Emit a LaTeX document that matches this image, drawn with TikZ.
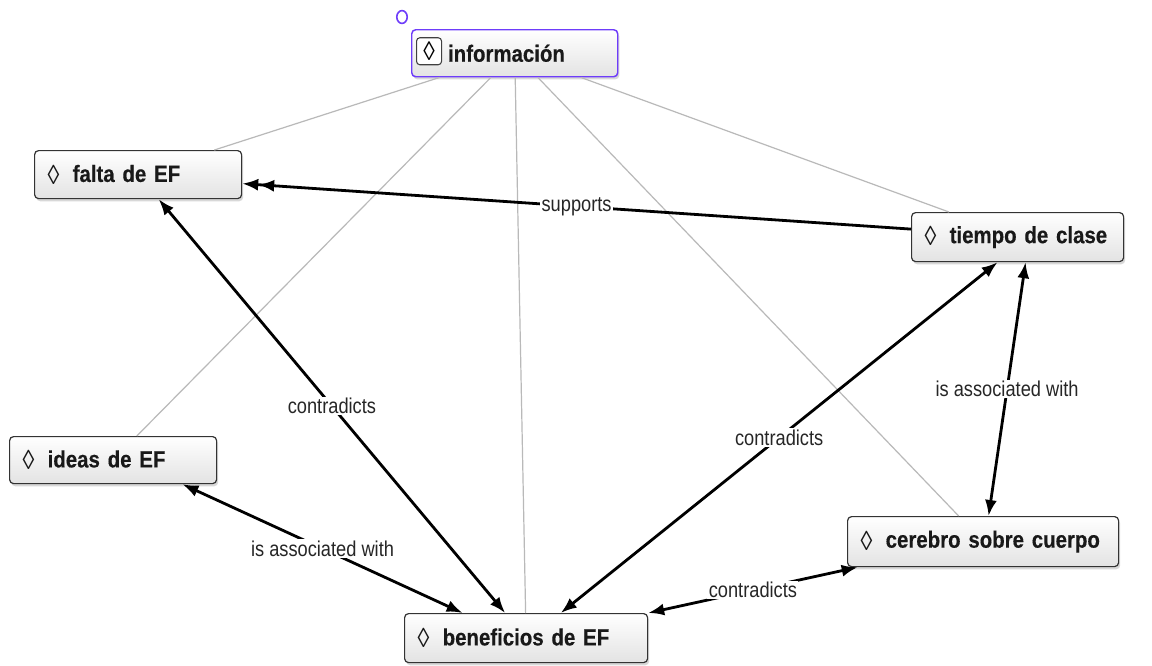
\documentclass[tikz,border=0pt]{standalone}
\usepackage{fontspec}
\setmainfont{Liberation Sans}
\newfontfamily\nodefont[FakeStretch=0.87, BoldFeatures={FakeBold=0.35}]{Liberation Sans}
\newfontfamily\lblfont[FakeStretch=0.85]{Liberation Sans}
\usetikzlibrary{arrows.meta,shadows}
\definecolor{selpurple}{RGB}{110,60,250}
\definecolor{linkgray}{RGB}{185,185,185}
\newcommand{\dmd}{\raisebox{-1.8pt}{\mdseries\fontsize{20.5}{20}\selectfont ◊}\hspace{10pt}}
\begin{document}
\begin{tikzpicture}[x=0.75pt,y=-0.75pt,
  box/.style={draw=black!80, line width=0.9pt, rounded corners=3pt,
    top color=white, bottom color=black!11,
    drop shadow={opacity=0.3,shadow xshift=1.2pt,shadow yshift=-2pt},
    anchor=north west, inner xsep=9.75pt, inner ysep=0pt, align=left,
    text=black!90, font={\nodefont\bfseries\fontsize{17.6}{20}\selectfont}},
  lbl/.style={fill=white, inner sep=1pt, text=black!85,
    font={\lblfont\fontsize{16.1}{18}\selectfont}},
  gl/.style={draw=linkgray, line width=0.9pt},
  arr/.style={draw=black, line width=2.1pt,
    {Latex[length=12pt,width=9pt]}-{Latex[length=12pt,width=9pt]}},
  sup/.style={draw=black, line width=2.1pt,
    -{Latex[length=12pt,width=9pt] Latex[length=12pt,width=9pt]}}]
\fill[white] (0,0) rectangle (1152,665);
\useasboundingbox (0,0) rectangle (1152,665);

% nodes
\node[box, draw=selpurple, line width=1.1pt, text width=135pt, minimum height=35.25pt] (info) at (411,29) {\mbox{\hspace*{17.5pt}información}};
\node[draw=black!75, line width=0.8pt, rounded corners=2.5pt, fill=white, minimum width=18.75pt, minimum height=20.25pt, inner sep=0pt, anchor=west, font={\nodefont\fontsize{20}{20}\selectfont}] (infoicon) at ([xshift=3.75pt,yshift=1.5pt]info.west) {◊};
\node[box, text width=135.75pt, minimum height=36pt] (falta) at (34,150) {\mbox{\dmd falta de EF}};
\node[box, text width=139.5pt, minimum height=36.75pt] (tiempo) at (911,212) {\mbox{\dmd tiempo de clase}};
\node[box, text width=135.75pt, minimum height=35.25pt] (ideas) at (9,436) {\mbox{\dmd ideas de EF}};
\node[box, text width=183.75pt, minimum height=37.5pt] (cerebro) at (847,516) {\mbox{\dmd cerebro sobre cuerpo}};
\node[box, text width=162.75pt, minimum height=36.75pt] (bene) at (404,613) {\mbox{\dmd beneficios de EF}};

% selection handle
\draw[selpurple, line width=1.2pt] (402,17) ellipse [x radius=3.9pt, y radius=4.8pt];

% gray links
\draw[gl] (info) -- (falta);
\draw[gl] (info) -- (tiempo);
\draw[gl] (info) -- (ideas);
\draw[gl] (info) -- (bene);
\draw[gl] (info) -- (cerebro);

% labelled connectors
\draw[sup] ([yshift=6pt]tiempo.west) -- node[lbl]{supports} ([yshift=-6.75pt]falta.east);
\draw[arr] (falta) -- node[lbl]{contradicts} (bene);
\draw[arr] ([xshift=-15pt]tiempo.south) -- node[lbl]{contradicts} ([xshift=26pt]bene.north);
\draw[arr] ([xshift=6pt]tiempo.south) -- node[lbl]{is associated with} ([xshift=4.1pt]cerebro.north);
\draw[arr] ([xshift=52pt]ideas.south) -- node[lbl]{is associated with} ([xshift=-47.6pt]bene.north);
\draw[arr] ([xshift=8pt]cerebro.south west) -- node[lbl]{contradicts} (bene.north east);
\end{tikzpicture}
\end{document}
